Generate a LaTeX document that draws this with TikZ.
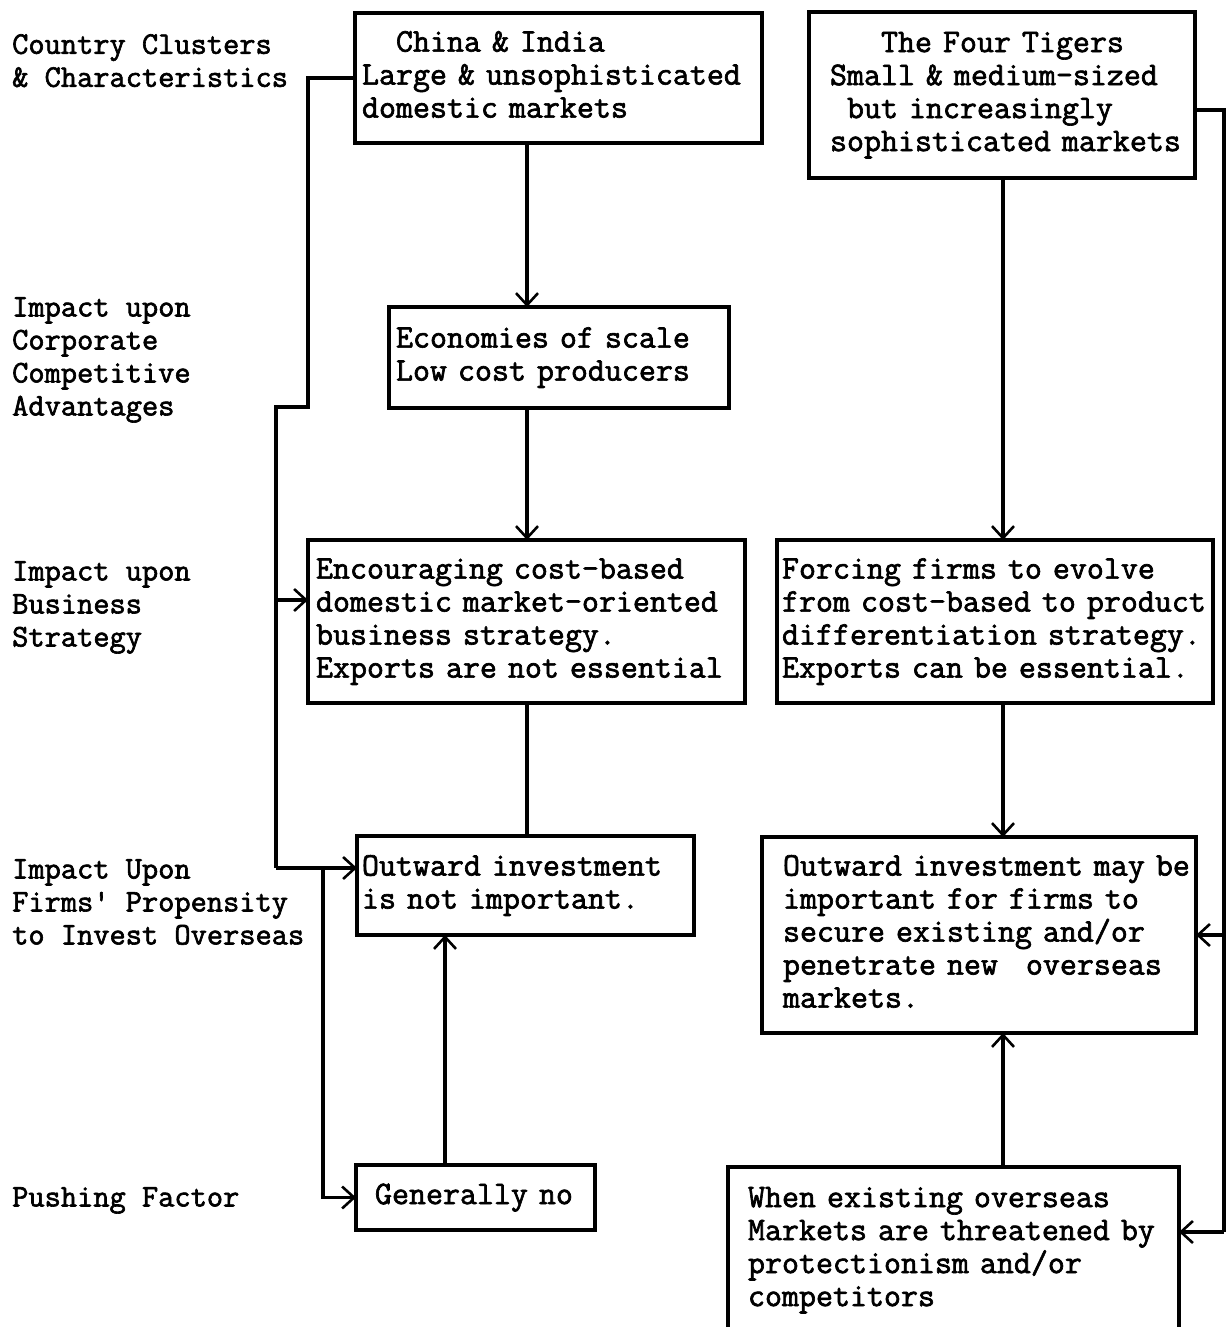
\documentclass[tikz,border=0pt]{standalone}
\usepackage{fontspec}
\newfontfamily\tw{Latin Modern Mono}[FakeBold=2]
\usetikzlibrary{arrows.meta}
% one unbreakable left-aligned block of lines
\newcommand\rows[1]{\begin{tabular}{@{}l@{}}#1\end{tabular}}
\begin{document}
\begin{tikzpicture}[x=1pt,y=-1pt,
  every node/.style={font=\tw\fontsize{33}{33}\selectfont},
  box/.style={draw, line width=3.4pt, rectangle, align=left, anchor=north west,
    inner ysep=0pt, outer sep=0pt},
  lab/.style={anchor=north west, inner sep=0pt, align=left,
    font=\tw\fontsize{31.5}{33}\selectfont},
  link/.style={line width=3.4pt},
  arr/.style={link, -{Straight Barb[length=12pt,width=22pt,line width=2.6pt]}}]
\useasboundingbox (0,0) rectangle (1226,1327);
\fill[white] (0,0) rectangle (1226,1327);

% row headings
\node[lab] (c1) at (12,34)   {Country Clusters\\\& Characteristics};
\node[lab] (c2) at (12,297)  {Impact upon\\Corporate\\Competitive\\Advantages};
\node[lab] (c3) at (12,561)  {Impact upon\\Business\\Strategy};
\node[lab] (c4) at (12,859)  {Impact Upon\\Firms\textquotesingle{} Propensity\\to Invest Overseas};
\node[lab] (c5) at (12,1187) {Pushing Factor};

% China & India column
\node[box, minimum width=407pt, minimum height=130pt, text width=393pt, inner xsep=7pt]
  (china) at (355,13) {\rows{\phantom{xx}China \& India\\Large \& unsophisticated\\domestic markets}};
\node[box, minimum width=340pt, minimum height=101pt, text width=326pt, inner xsep=7pt]
  (econ) at (389,307) {\rows{Economies of scale\\Low cost producers}};
\node[box, minimum width=437pt, minimum height=163pt, text width=421pt, inner xsep=8pt]
  (enc) at (308,540) {\rows{Encouraging cost-based\\domestic market-oriented\\business strategy.\\Exports are not essential}};
\node[box, minimum width=337pt, minimum height=99pt, text width=327pt, inner xsep=5pt]
  (outno) at (357,836) {\rows{Outward investment\\is not important.}};
\node[box, minimum width=239pt, minimum height=65pt, text width=201pt, inner xsep=19pt]
  (gen) at (356,1165) {\rows{Generally no}};

% Four Tigers column
\node[box, minimum width=386pt, minimum height=166pt, text width=344pt, inner xsep=21pt]
  (tig) at (809,12) {\rows{\phantom{xxx}The Four Tigers\\Small \& medium-sized\\\phantom{x}but increasingly\\sophisticated markets}};
\node[box, minimum width=436pt, minimum height=163pt, text width=426pt, inner xsep=5pt]
  (forc) at (777,540) {\rows{Forcing firms to evolve\\from cost-based to product\\differentiation strategy.\\Exports can be essential.}};
\node[box, minimum width=434pt, minimum height=196pt, text width=392pt, inner xsep=21pt]
  (outmay) at (762,837) {\rows{Outward investment may be\\important for firms to\\secure existing and/or\\penetrate new\phantom{x} overseas\\markets.}};
\node[box, minimum width=451pt, minimum height=166pt, text width=411pt, inner xsep=20pt]
  (when) at (728,1167) {\rows{When existing overseas\\Markets are threatened by\\protectionism and/or\\competitors}};

% vertical guides for the column connectors
\coordinate (cx) at (527,0);
\coordinate (gx) at (445,0);
\coordinate (rx) at (1003,0);

\draw[arr]  (china.south -| cx) -- (econ.north -| cx);
\draw[arr]  (econ.south -| cx)  -- (enc.north -| cx);
\draw[link] (enc.south -| cx)   -- (outno.north -| cx);
\draw[arr]  (gen.north -| gx)   -- (outno.south -| gx);

\draw[arr]  (tig.south -| rx)   -- (forc.north -| rx);
\draw[arr]  (forc.south -| rx)  -- (outmay.north -| rx);
\draw[arr]  (when.north -| rx)  -- (outmay.south -| rx);

% left feedback line
\coordinate (la) at (308,407);
\coordinate (lb) at (276,407);
\coordinate (lc) at (276,600);
\coordinate (ld) at (276,868);
\coordinate (le) at (323,868);
\draw[link] (china.west) -| (la) -- (lb) -- (ld);
\draw[arr]  (lc) -- (lc -| enc.west);
\draw[arr]  (ld) -- (ld -| outno.west);
\draw[arr]  (le) |- (gen.west);

% right feedback line
\coordinate (ra) at (1224,110);
\coordinate (rb) at (1224,935);
\coordinate (rc) at (1224,1232);
\draw[link] (ra -| tig.east) -- (ra) -- (rc);
\draw[arr]  (rb) -- (outmay.east);
\draw[arr]  (rc) -- (rc -| when.east);
\end{tikzpicture}
\end{document}
